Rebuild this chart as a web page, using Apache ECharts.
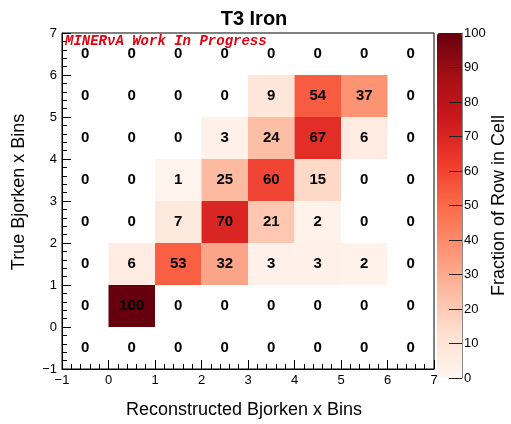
<!DOCTYPE html>
<html>
<head>
<meta charset="utf-8">
<script src="https://cdn.jsdelivr.net/npm/echarts@6/dist/echarts.min.js"></script>
<style>
  html, body { margin: 0; padding: 0; background: #fff; }
  #chart { width: 511px; height: 424px; }
</style>
</head>
<body>
<div id="chart"></div>
<script>
// Bin lower edges along each axis
const recoBins = [-1, 0, 1, 2, 3, 4, 5, 6];
const trueBins = [-1, 0, 1, 2, 3, 4, 5, 6];

// Fraction of each true-bin row landing in each reconstructed bin (percent)
const rowTrueM1 = [0, 0, 0, 0, 0, 0, 0, 0];
const rowTrue0  = [0, 100, 0, 0, 0, 0, 0, 0];
const rowTrue1  = [0, 6, 53, 32, 3, 3, 2, 0];
const rowTrue2  = [0, 0, 7, 70, 21, 2, 0, 0];
const rowTrue3  = [0, 0, 1, 25, 60, 15, 0, 0];
const rowTrue4  = [0, 0, 0, 3, 24, 67, 6, 0];
const rowTrue5  = [0, 0, 0, 0, 9, 54, 37, 0];
const rowTrue6  = [0, 0, 0, 0, 0, 0, 0, 0];
const rows = [rowTrueM1, rowTrue0, rowTrue1, rowTrue2, rowTrue3, rowTrue4, rowTrue5, rowTrue6];

const colorTicks = [0, 10, 20, 30, 40, 50, 60, 70, 80, 90, 100];

const cells = [];
trueBins.forEach((yb, j) => {
  recoBins.forEach((xb, i) => {
    cells.push([xb, yb, rows[j][i]]);
  });
});

const reds = ['#fff5f0', '#fee0d2', '#fcbba1', '#fc9272', '#fb6a4a', '#ef3b2c', '#cb181d', '#a50f15', '#67000d'];
const FONT = '"Liberation Sans", Arial, sans-serif';
const minus = v => String(v).replace('-', '\u2212');

const chart = echarts.init(document.getElementById('chart'), null, { renderer: 'canvas' });

const option = {
  backgroundColor: '#fff',
  animation: false,
  title: {
    text: 'T3 Iron',
    left: 249, top: 4, textAlign: 'center',
    textStyle: { fontFamily: FONT, fontSize: 20, fontWeight: 'bold', color: '#000' }
  },
  grid: [
    { left: 62, top: 33, width: 372, height: 344, show: true, borderColor: '#000', borderWidth: 1, backgroundColor: '#fff' },
    { left: 437, top: 33, width: 25, height: 345, show: false }
  ],
  xAxis: [
    {
      type: 'value', gridIndex: 0, min: -1, max: 7, interval: 1,
      name: 'Reconstructed Bjorken x Bins', nameLocation: 'middle', nameGap: 32,
      nameTextStyle: { fontFamily: FONT, fontSize: 18, color: '#000', padding: [0, 8, 0, 0] },
      axisLine: { onZero: false, lineStyle: { color: '#000', width: 1 } },
      axisTick: { inside: true, length: 9, lineStyle: { color: '#000' } },
      minorTick: { show: true, splitNumber: 5, length: 5, lineStyle: { color: '#000' } },
      axisLabel: { fontFamily: FONT, fontSize: 13, color: '#000', margin: 5, formatter: minus },
      splitLine: { show: false }
    },
    {
      type: 'value', gridIndex: 1, min: 0, max: 1, show: false
    }
  ],
  yAxis: [
    {
      type: 'value', gridIndex: 0, min: -1, max: 7, interval: 1,
      name: 'True Bjorken x Bins', nameLocation: 'middle', nameGap: 34,
      nameTextStyle: { fontFamily: FONT, fontSize: 18, color: '#000', padding: [0, 0, 0, 18] },
      axisLine: { onZero: false, lineStyle: { color: '#000', width: 1 } },
      axisTick: { inside: true, length: 9, lineStyle: { color: '#000' } },
      minorTick: { show: true, splitNumber: 5, length: 5, lineStyle: { color: '#000' } },
      axisLabel: { fontFamily: FONT, fontSize: 13, color: '#000', margin: 5, formatter: minus },
      splitLine: { show: false }
    },
    {
      type: 'value', gridIndex: 1, min: 0, max: 100, interval: 10, position: 'right', z: 10,
      name: 'Fraction of Row in Cell', nameLocation: 'middle', nameGap: 26, nameRotate: 90,
      nameTextStyle: { fontFamily: FONT, fontSize: 18, color: '#000' },
      axisLine: { show: true, onZero: false, lineStyle: { color: '#888', width: 1 } },
      axisTick: { inside: true, length: 13, lineStyle: { color: '#222' } },
      axisLabel: {
        fontFamily: FONT, fontSize: 13, color: '#000', margin: 2,
        formatter: v => (colorTicks.indexOf(v) >= 0 ? String(v) : '')
      },
      splitLine: { show: false }
    }
  ],
  visualMap: {
    type: 'continuous', min: 0, max: 100, dimension: 2, seriesIndex: 0,
    calculable: false, show: true, hoverLink: false,
    left: 437, top: 33, itemWidth: 25, itemHeight: 345, padding: 0,
    inRange: { color: reds }
  },
  graphic: [
    {
      type: 'text', left: 65, top: 34, z: 100,
      style: {
        text: 'MINER\u03bdA Work In Progress',
        font: 'italic bold 14px "Liberation Mono", "Courier New", monospace',
        fill: '#e3000f'
      }
    }
  ],
  series: [
    {
      type: 'custom', xAxisIndex: 0, yAxisIndex: 0,
      data: cells,
      encode: { x: 0, y: 1 },
      renderItem: function (params, api) {
        const x = api.value(0), y = api.value(1), v = api.value(2);
        const p0 = api.coord([x, y + 1]);
        const p1 = api.coord([x + 1, y]);
        const c = api.coord([x + 0.5, y + 0.5]);
        const children = [];
        if (v > 0) {
          children.push({
            type: 'rect',
            shape: { x: p0[0], y: p0[1], width: p1[0] - p0[0], height: p1[1] - p0[1] },
            style: { fill: api.visual('color') }
          });
        }
        children.push({
          type: 'text', z2: 10,
          style: {
            text: String(v), x: c[0], y: c[1],
            align: 'center', verticalAlign: 'middle',
            font: 'bold 15px ' + FONT, fill: '#000'
          }
        });
        return { type: 'group', children: children };
      }
    }
  ]
};

chart.setOption(option);
</script>
</body>
</html>
